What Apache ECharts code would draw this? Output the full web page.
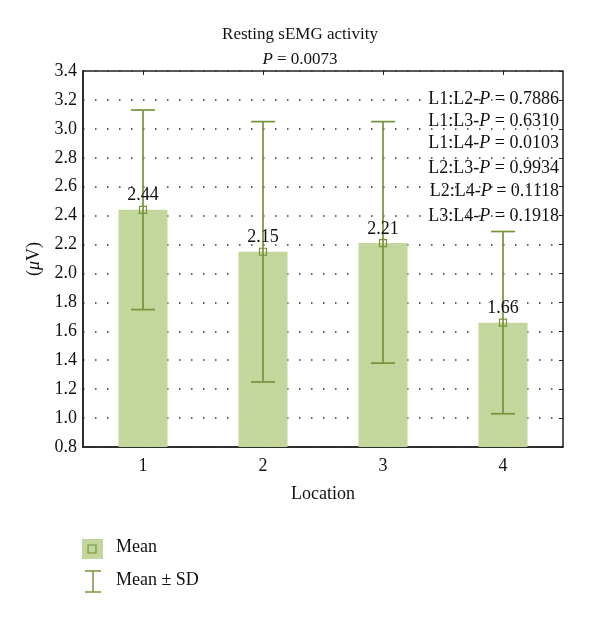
<!DOCTYPE html>
<html><head><meta charset="utf-8">
<script src="https://cdn.jsdelivr.net/npm/echarts@6/dist/echarts.min.js"></script>
<style>html,body{margin:0;padding:0;background:#fff}#c{width:600px;height:617px}</style>
</head><body><div id="c"></div>
<script>
const categories = ['1', '2', '3', '4'];
const means = [2.44, 2.15, 2.21, 1.66];
const sdUpper = [3.13, 3.05, 3.05, 2.29];
const sdLower = [1.75, 1.25, 1.38, 1.03];
const yTicks = [0.8, 1.0, 1.2, 1.4, 1.6, 1.8, 2.0, 2.2, 2.4, 2.6, 2.8, 3.0, 3.2, 3.4];
const pairLabels = ['L1:L2', 'L1:L3', 'L1:L4', 'L2:L3', 'L2:L4', 'L3:L4'];
const pairP = ['0.7886', '0.6310', '0.0103', '0.9934', '0.1118', '0.1918'];
const overallP = '0.0073';

const FONT = '"Liberation Serif", "DejaVu Serif", serif';
const BAR = '#c3d69b';
const LINE = '#77933c';
const pairY = [100, 122, 144, 169, 192, 217];

const chart = echarts.init(document.getElementById('c'), null, {renderer: 'canvas'});
const errData = categories.map((c, i) => [i, sdLower[i], sdUpper[i]]);

const graphics = [];
pairLabels.forEach((l, i) => {
  graphics.push({
    type: 'text', right: 41, top: pairY[i] - 10,
    style: {
      rich: {n: {fontFamily: FONT, fontSize: 18, fill: '#111'}, i: {fontFamily: FONT, fontSize: 18, fontStyle: 'italic', fill: '#111'}},
      text: '{n|' + l + '-}{i|P}{n| = ' + pairP[i] + '}'
    }
  });
});
// legend
graphics.push({type: 'rect', shape: {x: 82, y: 539, width: 21, height: 20}, style: {fill: BAR}});
graphics.push({type: 'rect', shape: {x: 88, y: 545, width: 8, height: 8}, style: {fill: 'none', stroke: LINE, lineWidth: 1.2}});
graphics.push({type: 'text', left: 116, top: 538, style: {text: 'Mean', fontFamily: FONT, fontSize: 18, fill: '#111'}});
graphics.push({type: 'line', shape: {x1: 85, y1: 571, x2: 101, y2: 571}, style: {stroke: LINE, lineWidth: 1.5}});
graphics.push({type: 'line', shape: {x1: 93, y1: 571, x2: 93, y2: 592}, style: {stroke: LINE, lineWidth: 1.5}});
graphics.push({type: 'line', shape: {x1: 85, y1: 592, x2: 101, y2: 592}, style: {stroke: LINE, lineWidth: 1.5}});
graphics.push({type: 'text', left: 116, top: 571, style: {text: 'Mean ± SD', fontFamily: FONT, fontSize: 18, fill: '#111'}});

chart.setOption({
  animation: false,
  backgroundColor: '#fff',
  title: {
    left: 'center', top: 21, itemGap: 8,
    text: 'Resting sEMG activity',
    textStyle: {fontFamily: FONT, fontSize: 17, fontWeight: 'normal', color: '#111'},
    subtext: '{i|P} = ' + overallP,
    subtextStyle: {fontFamily: FONT, fontSize: 17, color: '#111', rich: {i: {fontFamily: FONT, fontSize: 17, fontStyle: 'italic', color: '#111'}}}
  },
  grid: {left: 83, right: 37, top: 71, bottom: 170, show: true, borderColor: '#222', borderWidth: 1.5},
  xAxis: [{
    type: 'category', data: categories, boundaryGap: true,
    name: 'Location', nameLocation: 'middle', nameGap: 38,
    nameTextStyle: {fontFamily: FONT, fontSize: 18, color: '#111'},
    axisLine: {show: true, lineStyle: {color: '#222', width: 1.5}},
    axisTick: {show: true, inside: true, alignWithLabel: true, length: 4, lineStyle: {color: '#222'}},
    axisLabel: {fontFamily: FONT, fontSize: 18, color: '#111', margin: 10},
    splitLine: {show: false}
  }, {
    type: 'category', data: categories, position: 'top', boundaryGap: true,
    axisLine: {show: false},
    axisTick: {show: true, inside: true, alignWithLabel: true, length: 4, lineStyle: {color: '#222'}},
    axisLabel: {show: false}
  }],
  yAxis: [{
    type: 'value', min: 0.8, max: 3.4, interval: 0.2,
    name: '{p|(}{i|μ}{p|V)}', nameLocation: 'middle', nameGap: 37, nameRotate: 90,
    nameTextStyle: {fontFamily: FONT, fontSize: 18, color: '#111', rich: {p: {fontFamily: FONT, fontSize: 18, color: '#111'}, i: {fontFamily: FONT, fontSize: 18, fontStyle: 'italic', color: '#111'}}},
    axisLine: {show: true, lineStyle: {color: '#222', width: 1.5}},
    axisTick: {show: false},
    axisLabel: {fontFamily: FONT, fontSize: 18, color: '#111', margin: 6, formatter: v => v.toFixed(1)},
    splitLine: {show: true, lineStyle: {color: '#333', width: 1.5, type: [1.5, 10.5]}}
  }, {
    type: 'value', min: 0.8, max: 3.4, interval: 0.2, position: 'right',
    axisLine: {show: false},
    axisTick: {show: true, inside: true, length: 4, lineStyle: {color: '#222'}},
    axisLabel: {show: false}, splitLine: {show: false}
  }],
  series: [{
    type: 'bar', data: means, barWidth: 49, itemStyle: {color: BAR}, z: 2, silent: true
  }, {
    type: 'custom', data: errData, z: 3, silent: true,
    renderItem: function (params, api) {
      const x = api.value(0);
      const lo = api.coord([x, api.value(1)]);
      const hi = api.coord([x, api.value(2)]);
      const hw = 12;
      const st = {stroke: LINE, lineWidth: 1.7};
      return {type: 'group', children: [
        {type: 'line', shape: {x1: lo[0], y1: lo[1], x2: hi[0], y2: hi[1]}, style: st},
        {type: 'line', shape: {x1: lo[0] - hw, y1: lo[1], x2: lo[0] + hw, y2: lo[1]}, style: st},
        {type: 'line', shape: {x1: hi[0] - hw, y1: hi[1], x2: hi[0] + hw, y2: hi[1]}, style: st}
      ]};
    }
  }, {
    type: 'scatter', data: means, symbol: 'rect', symbolSize: 7, z: 4, silent: true,
    itemStyle: {color: 'rgba(0,0,0,0)', borderColor: LINE, borderWidth: 1.2, opacity: 1},
    label: {show: true, position: 'top', distance: 1, fontFamily: FONT, fontSize: 18, color: '#111', opacity: 1, formatter: p => p.value.toFixed(2)}
  }],
  graphic: graphics
});
</script></body></html>
